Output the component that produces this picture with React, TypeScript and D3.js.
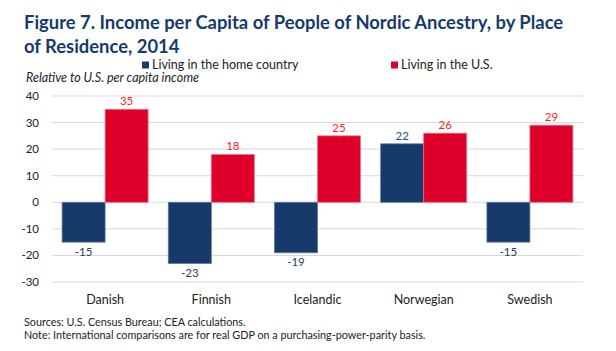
import React, { useEffect, useRef } from 'react';
import * as d3 from 'd3';

const categories = ['Danish', 'Finnish', 'Icelandic', 'Norwegian', 'Swedish'];
const homeCountry = [-15, -23, -19, 22, -15];
const livingUS = [35, 18, 25, 26, 29];
const yTicks = [40, 30, 20, 10, 0, -10, -20, -30];
const seriesNames = ['Living in the home country', 'Living in the U.S.'];

const W = 616;
const H = 351;
const NAVY = '#163a6b';
const RED = '#de002a';
const FONT = 'Lato, "Open Sans", sans-serif';

const App = () => {
    const ref = useRef<SVGSVGElement>(null);

    useEffect(() => {
        const svg = d3.select(ref.current);
        svg.selectAll('*').remove();

        const left = 52, right = 583, top = 96, bottom = 282;

        const x = d3.scaleBand().domain(categories).range([left, right]).paddingInner(0.19).paddingOuter(0.095);
        const sub = d3.scaleBand().domain(['home', 'us']).range([0, x.bandwidth()]);
        const y = d3.scaleLinear().domain([-30, 40]).range([bottom, top]);

        // title
        const title = svg.append('text')
            .attr('font-family', FONT).attr('font-weight', 700)
            .attr('font-size', 18.4).attr('fill', NAVY);
        title.append('tspan').attr('x', 24).attr('y', 29).text('Figure 7. Income per Capita of People of Nordic Ancestry, by Place');
        title.append('tspan').attr('x', 24).attr('y', 52.5).text('of Residence, 2014');

        // legend
        const legend = [
            { name: seriesNames[0], color: NAVY, x: 142 },
            { name: seriesNames[1], color: RED, x: 391 },
        ];
        legend.forEach(l => {
            svg.append('rect').attr('x', l.x).attr('y', 61.5).attr('width', 7).attr('height', 7).attr('fill', l.color);
            svg.append('text').attr('x', l.x + 10).attr('y', 69)
                .attr('font-family', FONT).attr('font-size', 12.5).attr('fill', '#222').text(l.name);
        });

        svg.append('text').attr('x', 26).attr('y', 82)
            .attr('font-family', FONT).attr('font-size', 12.5).attr('font-style', 'italic')
            .attr('fill', '#222').text('Relative to U.S. per capita income');

        // gridlines
        svg.append('g').selectAll('line').data(yTicks).enter().append('line')
            .attr('x1', left).attr('x2', right)
            .attr('y1', d => y(d)).attr('y2', d => y(d))
            .attr('stroke', '#d9d9d9').attr('stroke-width', 1);

        svg.append('g').selectAll('text').data(yTicks).enter().append('text')
            .attr('x', 39).attr('y', d => y(d) + 4)
            .attr('text-anchor', 'end').attr('font-family', FONT).attr('font-size', 11.5)
            .attr('fill', '#222').text(d => d);

        const rows = categories.map((c, i) => ({ c, home: homeCountry[i], us: livingUS[i] }));

        const groups = svg.append('g').selectAll('g').data(rows).enter().append('g')
            .attr('transform', d => `translate(${x(d.c)},0)`);

        const bars = [
            { key: 'home', fill: NAVY, stroke: '#60769a', label: '#233f68', get: (d: any) => d.home },
            { key: 'us', fill: RED, stroke: '#f07080', label: '#ff2222', get: (d: any) => d.us },
        ];

        bars.forEach(b => {
            groups.append('rect')
                .attr('x', sub(b.key)!)
                .attr('width', sub.bandwidth())
                .attr('y', d => y(Math.max(0, b.get(d))))
                .attr('height', d => Math.abs(y(b.get(d)) - y(0)))
                .attr('fill', b.fill).attr('stroke', b.stroke).attr('stroke-width', 0.8);
            groups.append('text')
                .attr('x', sub(b.key)! + sub.bandwidth() / 2)
                .attr('y', d => b.get(d) >= 0 ? y(b.get(d)) - 4 : y(b.get(d)) + 13.5)
                .attr('text-anchor', 'middle').attr('font-family', FONT).attr('font-size', 11.5)
                .attr('fill', d => b.key === 'home' && b.get(d) > 0 ? '#24508c' : b.label)
                .text(d => b.get(d));
        });

        // category labels
        svg.append('g').selectAll('text').data(categories).enter().append('text')
            .attr('x', d => x(d)! + x.bandwidth() / 2).attr('y', 304)
            .attr('text-anchor', 'middle').attr('font-family', FONT).attr('font-size', 12.5)
            .attr('fill', '#222').text(d => d);

        svg.append('text').attr('x', 24).attr('y', 326)
            .attr('font-family', FONT).attr('font-size', 10.8).attr('fill', '#222')
            .text('Sources: U.S. Census Bureau; CEA calculations.');
        svg.append('text').attr('x', 24).attr('y', 339)
            .attr('font-family', FONT).attr('font-size', 10.8).attr('fill', '#222')
            .text('Note: International comparisons are for real GDP on a purchasing-power-parity basis.');
    }, []);

    return (
        <svg ref={ref} width={W} height={H} style={{ position: 'absolute', left: 0, top: 0, background: '#fff' }}></svg>
    );
};

export default App;
